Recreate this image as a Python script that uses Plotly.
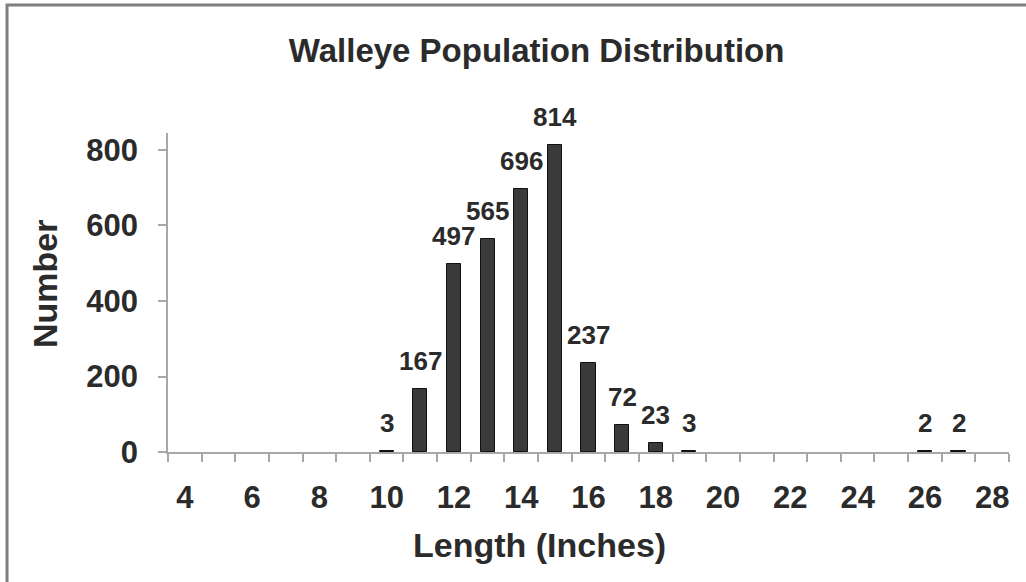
import plotly.graph_objects as go


# ---------------- Data ----------------
lengths = [10, 11, 12, 13, 14, 15, 16, 17, 18, 19, 26, 27]
counts = [3, 167, 497, 565, 696, 814, 237, 72, 23, 3, 2, 2]

x_tick_vals = list(range(4, 29, 2))
y_tick_vals = [0, 200, 400, 600, 800]
x_boundaries = [v + 0.5 for v in range(3, 29)]

FONT = "Liberation Sans, Arial, sans-serif"
TEXT = "#2b2b2b"


# ---------------- Chart ----------------
fig = go.Figure()

fig.add_trace(
    go.Bar(
        x=lengths,
        y=counts,
        width=0.42,
        marker=dict(color="#3a3a3a", line=dict(color="#111111", width=1)),
        hoverinfo="x+y",
    )
)

# value labels above the bars
for x, y in zip(lengths, counts):
    fig.add_annotation(
        x=x, y=y, text=str(y),
        showarrow=False, yanchor="bottom", yshift=11,
        font=dict(family=FONT, size=26, color=TEXT, weight="bold"),
    )

fig.update_layout(
    width=1026,
    height=582,
    margin=dict(l=168, r=17, t=133, b=130),
    paper_bgcolor="white",
    plot_bgcolor="white",
    showlegend=False,
    bargap=0,
    title=dict(
        text="Walleye Population Distribution",
        x=0.523, xref="container", xanchor="center",
        y=0.914, yref="container", yanchor="middle",
        font=dict(family=FONT, size=33, color=TEXT, weight="bold"),
    ),
)

fig.update_xaxes(
    range=[3.5, 28.5],
    tickmode="array",
    tickvals=x_tick_vals,
    ticks="",
    tickfont=dict(family=FONT, size=31, color=TEXT, weight="bold"),
    ticklabelstandoff=17,
    showgrid=False,
    zeroline=False,
    showline=True,
    linecolor="#a8a8a8",
    linewidth=1.5,
    minor=dict(
        tickmode="array",
        tickvals=x_boundaries,
        ticks="outside",
        ticklen=8,
        tickcolor="#a8a8a8",
        tickwidth=1.5,
        showgrid=False,
    ),
)

fig.update_yaxes(
    range=[0, 845],
    tickmode="array",
    tickvals=y_tick_vals,
    ticks="outside",
    ticklen=8,
    tickcolor="#a8a8a8",
    tickwidth=1.5,
    tickfont=dict(family=FONT, size=31, color=TEXT, weight="bold"),
    ticklabelstandoff=14,
    showgrid=False,
    zeroline=False,
    showline=True,
    linecolor="#a8a8a8",
    linewidth=1.5,
)

# axis titles
fig.add_annotation(
    text="Length (Inches)",
    xref="paper", yref="paper", x=0.442, y=-0.29,
    xanchor="center", yanchor="middle", showarrow=False,
    font=dict(family=FONT, size=34, color=TEXT, weight="bold"),
)
fig.add_annotation(
    text="Number",
    xref="paper", yref="paper", x=-0.146, y=0.527,
    xanchor="center", yanchor="middle", textangle=-90, showarrow=False,
    font=dict(family=FONT, size=34, color=TEXT, weight="bold"),
)

# scanned frame (top and left edges visible)
fig.add_shape(
    type="rect", xref="paper", yref="paper",
    x0=-0.1914, x1=1.1, y0=-0.6, y1=1.401,
    line=dict(color="#7f7f7f", width=3), layer="above",
)

# drop the page's default body margin so the figure sits at the window corner
fig.write_html(
    "out.html",
    config={"displayModeBar": False},
    post_script="document.body.style.margin='0';",
)
